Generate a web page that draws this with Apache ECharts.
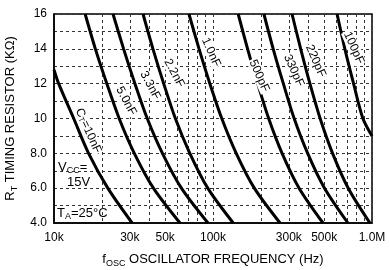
<!DOCTYPE html>
<html>
<head>
<meta charset="utf-8">
<script src="https://cdn.jsdelivr.net/npm/echarts@6/dist/echarts.min.js"></script>
<style>
html, body { margin: 0; padding: 0; background: #fff; }
#main { width: 390px; height: 270px; }
</style>
</head>
<body>
<div id="main"></div>
<script>
var FONT = '"Liberation Sans", Arial, Helvetica, sans-serif';

// R_T values (kOhm)
var rStd = [16, 14, 12, 10, 8, 6, 4];
var r10n = [12.8, 12, 10, 8, 6, 4];
var r100p = [16, 14, 12, 10, 9];

// f_osc (kHz) read at those R_T values
var f10n = [10, 10.7, 13.3, 16.5, 21.8, 31];
var f5n0 = [15.7, 18.2, 21.5, 25.7, 32.0, 42.2, 62];
var f3n3 = [23.5, 27.4, 32.3, 38.6, 48.1, 63.3, 93];
var f2n2 = [36.3, 41.9, 49.0, 58.0, 71.5, 92.7, 134];
var f1n0 = [70.6, 81.7, 95.6, 113.6, 140, 182, 264];
var f500p = [144, 165, 191, 224, 272, 348, 492];
var f330p = [209, 239, 277, 324, 394, 503, 706];
var f220p = [314, 356, 407, 472, 565, 709, 971];
var f100p = [603, 675, 766, 877, 1000];

var curveNames = ['10nF', '5.0nF', '3.3nF', '2.2nF', '1.0nF', '500pF', '330pF', '220pF', '100pF'];
var curveF = [f10n, f5n0, f3n3, f2n2, f1n0, f500p, f330p, f220p, f100p];
var curveR = [r10n, rStd, rStd, rStd, rStd, rStd, rStd, rStd, r100p];

// where each curve label sits (kHz, kOhm) and its angle
var labelAt = [[16.4, 9.3], [28.4, 11.0], [40.3, 11.9], [57, 12.6], [97, 13.8],
               [195, 12.45], [322, 12.75], [442, 13.3], [768, 14.05]];
var labelRot = [-66, -62, -62, -62, -66, -66, -66, -66, -66];

var xTickValues = [10000, 30000, 50000, 100000, 300000, 500000, 1000000];
var xTickLabels = ['10k', '30k', '50k', '100k', '300k', '500k', '1.0M'];
var xGridValues = [10000, 20000, 30000, 40000, 50000, 60000, 70000, 80000, 90000,
                   100000, 200000, 300000, 400000, 500000, 600000, 700000, 800000, 900000, 1000000];
var yTickValues = [4, 6, 8, 10, 12, 14, 16];
var yTickLabels = ['4.0', '6.0', '8.0', '10', '12', '14', '16'];

var myChart = echarts.init(document.getElementById('main'), null, {renderer: 'canvas'});

var series = [];
for (var i = 0; i < curveNames.length; i++) {
    var pts = [];
    for (var j = 0; j < curveF[i].length; j++) {
        pts.push([curveF[i][j] * 1000, curveR[i][j]]);
    }
    var txt = i === 0 ? '{n|C}{s|T}{n|=10nF}' : '{n|' + curveNames[i] + '}';
    series.push({
        name: curveNames[i],
        type: 'line',
        data: pts,
        smooth: 0.3,
        symbol: 'none',
        silent: true,
        lineStyle: {color: '#000', width: 3},
        markPoint: {
            symbol: 'circle',
            symbolSize: 0,
            silent: true,
            data: [{coord: [labelAt[i][0] * 1000, labelAt[i][1]], value: 0}],
            label: {
                show: true,
                position: 'inside',
                rotate: labelRot[i],
                formatter: txt,
                backgroundColor: '#fff',
                padding: [0, 1],
                rich: {
                    n: {fontSize: 12, fontFamily: FONT, color: '#000'},
                    s: {fontSize: 8, fontFamily: FONT, color: '#000', verticalAlign: 'bottom', lineHeight: 8}
                }
            }
        }
    });
}

var option = {
    animation: false,
    backgroundColor: '#fff',
    grid: {
        left: 54, right: 18, top: 14, bottom: 47,
        show: true, borderColor: '#000', borderWidth: 1.5,
        outerBoundsMode: 'none'
    },
    xAxis: {
        type: 'log',
        logBase: 10,
        min: 10000,
        max: 1000000,
        name: '{a|f}{s|OSC}{a| OSCILLATOR FREQUENCY (Hz)}',
        nameLocation: 'middle',
        nameGap: 27,
        nameTextStyle: {
            rich: {
                a: {fontSize: 13, fontFamily: FONT, color: '#000', lineHeight: 18},
                s: {fontSize: 9, fontFamily: FONT, color: '#000', lineHeight: 9, verticalAlign: 'bottom'}
            }
        },
        axisLine: {show: true, onZero: false, lineStyle: {color: '#000', width: 1.5}},
        axisTick: {show: false, customValues: xGridValues},
        axisLabel: {
            customValues: xTickValues,
            color: '#000', fontSize: 12, fontFamily: FONT, margin: 9,
            formatter: function (v) {
                for (var k = 0; k < xTickValues.length; k++) {
                    if (Math.abs(xTickValues[k] - v) / xTickValues[k] < 1e-6) return xTickLabels[k];
                }
                return '';
            }
        },
        splitLine: {show: true, lineStyle: {color: '#333', width: 1, type: [3, 3]}}
    },
    yAxis: {
        type: 'value',
        min: 4,
        max: 16,
        interval: 1,
        name: '{a|R}{s|T}{a| TIMING RESISTOR (KΩ)}',
        nameLocation: 'middle',
        nameGap: 30,
        nameTextStyle: {
            rich: {
                a: {fontSize: 13, fontFamily: FONT, color: '#000', lineHeight: 18},
                s: {fontSize: 9, fontFamily: FONT, color: '#000', lineHeight: 9, verticalAlign: 'bottom'}
            }
        },
        axisLine: {show: true, lineStyle: {color: '#000', width: 1.5}},
        axisTick: {show: false},
        axisLabel: {
            color: '#000', fontSize: 12, fontFamily: FONT, margin: 7,
            formatter: function (v) {
                var k = yTickValues.indexOf(v);
                return k >= 0 ? yTickLabels[k] : '';
            }
        },
        splitLine: {show: true, lineStyle: {color: '#333', width: 1, type: [3, 3]}}
    },
    graphic: [
        {
            type: 'text', left: 58, top: 161,
            style: {
                text: '{a|V}{s|CC}{a|=}',
                rich: {
                    a: {fontSize: 13, fontFamily: FONT, fill: '#000', lineHeight: 16},
                    s: {fontSize: 9, fontFamily: FONT, fill: '#000', lineHeight: 9, verticalAlign: 'bottom'}
                }
            }
        },
        {
            type: 'text', left: 67, top: 176,
            style: {text: '15V', font: '13px ' + FONT, fill: '#000'}
        },
        {
            type: 'text', left: 57, top: 207,
            style: {
                text: '{a|T}{s|A}{a|=25°C}',
                rich: {
                    a: {fontSize: 13, fontFamily: FONT, fill: '#000', lineHeight: 16},
                    s: {fontSize: 9, fontFamily: FONT, fill: '#000', lineHeight: 9, verticalAlign: 'bottom'}
                }
            }
        }
    ],
    series: series
};
myChart.setOption(option);
</script>
</body>
</html>
